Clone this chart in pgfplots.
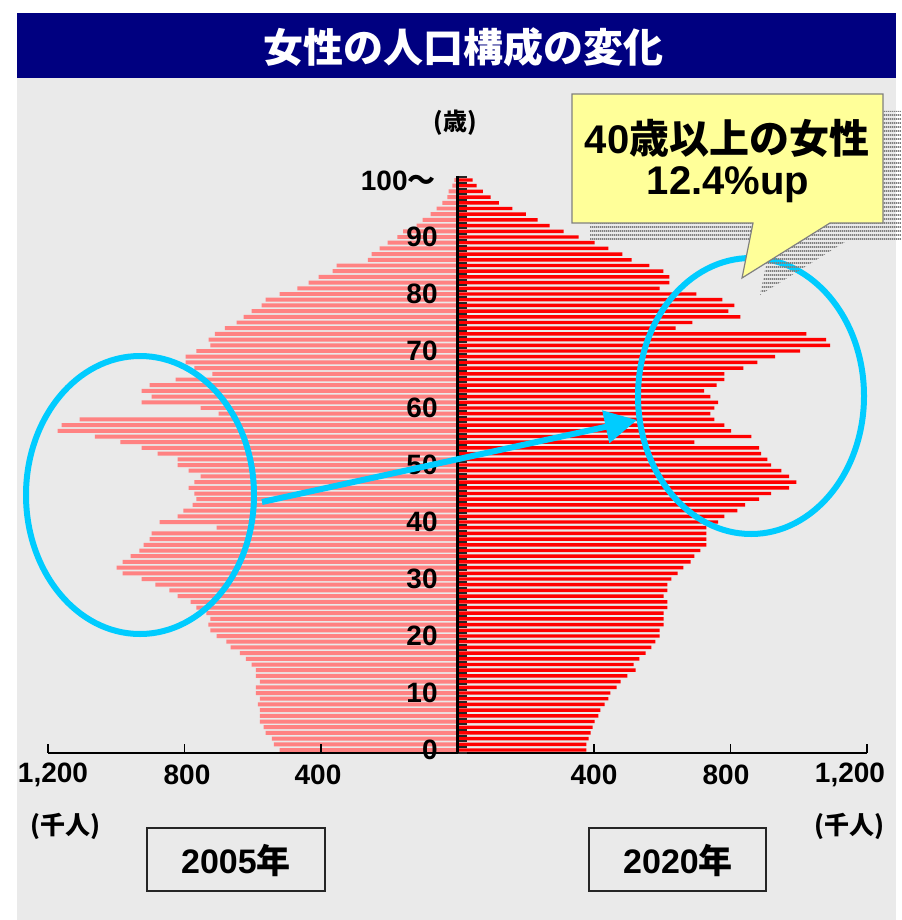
\documentclass[border=0pt]{standalone}
\usepackage{pgfplots}
\usepackage{pgfplotstable}
\pgfplotsset{compat=1.18}
\usepackage{fontspec}
\setmainfont{Liberation Sans}
\newfontfamily\cjk{Noto Sans CJK JP}
\usetikzlibrary{patterns.meta,arrows.meta}

\definecolor{bgc}{RGB}{234,234,234}
\definecolor{navy}{RGB}{0,0,128}
\definecolor{pinkbar}{RGB}{255,130,130}
\definecolor{redbar}{RGB}{255,0,0}
\definecolor{cyanline}{RGB}{0,204,255}
\definecolor{callyellow}{RGB}{255,255,153}

\tikzdeclarepattern{name=hstripes, type=uncolored,
  bounding box={(0,0) and (1pt,2pt)}, tile size={(1pt,2pt)},
  code={\fill (0,0) rectangle (1pt,1.1pt);}}

% 2005 (left, negative = drawn to the left), thousands
\pgfplotstableread{
age val
0 -521
1 -538
2 -544
3 -562
4 -568
5 -579
6 -579
7 -579
8 -585
9 -579
10 -591
11 -591
12 -579
13 -591
14 -591
15 -603
16 -620
17 -638
18 -665
19 -677
20 -706
21 -724
22 -730
23 -724
24 -736
25 -765
26 -782
27 -820
28 -844
29 -885
30 -926
31 -981
32 -999
33 -981
34 -958
35 -932
36 -920
37 -902
38 -896
39 -706
40 -873
41 -820
42 -803
43 -776
44 -765
45 -771
46 -788
47 -771
48 -753
49 -788
50 -820
51 -820
52 -879
53 -926
54 -988
55 -1063
56 -1172
57 -1160
58 -1107
59 -700
60 -753
61 -926
62 -896
63 -926
64 -902
65 -826
66 -718
67 -771
68 -797
69 -797
70 -765
71 -724
72 -729
73 -711
74 -682
75 -647
76 -627
77 -603
78 -574
79 -562
80 -521
81 -469
82 -436
83 -407
84 -366
85 -354
86 -263
87 -252
88 -228
89 -205
90 -176
91 -159
92 -120
93 -102
94 -79
95 -61
96 -44
97 -30
98 -26
99 -15
100 -9
}\dataA

% 2020 (right), thousands
\pgfplotstableread{
age val
0 378
1 378
2 384
3 390
4 396
5 402
6 413
7 419
8 431
9 442
10 448
11 466
12 478
13 498
14 522
15 516
16 533
17 551
18 568
19 580
20 592
21 592
22 604
23 604
24 604
25 615
26 615
27 604
28 615
29 615
30 627
31 645
32 662
33 683
34 694
35 712
36 729
37 729
38 729
39 729
40 764
41 782
42 820
43 843
44 884
45 919
46 972
47 993
48 972
49 949
50 919
51 908
52 890
53 884
54 694
55 861
56 802
57 782
58 753
59 741
60 753
61 764
62 741
63 723
64 759
65 782
66 782
67 838
68 879
69 931
70 1004
71 1092
72 1080
73 1022
74 639
75 688
76 829
77 794
78 811
79 776
80 700
81 592
82 621
83 621
84 603
85 562
86 510
87 483
88 442
89 402
90 355
91 311
92 270
93 235
94 200
95 161
96 121
97 97
98 74
99 56
100 44
}\dataB

\begin{document}
\begin{tikzpicture}
\begin{scope}[x=0.5pt,y=-0.5pt]
  \useasboundingbox (0,0) rectangle (896,920);
  \fill[white] (0,0) rectangle (896,920);
  \fill[bgc] (17,78) rectangle (896,920);
  \fill[navy] (17,13) rectangle (896,78);
  \node[text=white] at (463,47) {\cjk\bfseries\fontsize{20}{24}\selectfont 女性の人口構成の変化};
\end{scope}

\begin{axis}[at={(24pt,-376.425pt)}, anchor=south west, scale only axis,
  width=409.5pt, height=287.85pt,
  xmin=-1200, xmax=1200, ymin=-0.5, ymax=100.5,
  hide axis, clip=false]
  \addplot[xbar, bar shift=0pt, bar width=0.7, fill=pinkbar, draw=none]
    table[x=val, y=age] {\dataA};
  \addplot[xbar, bar shift=0pt, bar width=0.6, fill=redbar, draw=none]
    table[x=val, y=age] {\dataB};
\end{axis}

\begin{scope}[x=0.5pt,y=-0.5pt]
  % axes
  \draw[line width=1pt] (48,752.85) -- (867,752.85);
  \foreach \xx in {48,184.5,321,594,730.5,867}
    \draw[line width=0.8pt] (\xx,752.85) -- ++(0,-9);
  \foreach \i in {0,...,101}
    \draw[line width=1pt, black!85] (457.5,{752.85-5.7*\i}) -- ++(9,0);
  \draw[line width=1.5pt] (457.5,176) -- (457.5,753);
  % y labels
  \foreach \k in {0,1,...,9}
    \node[anchor=east, inner sep=0pt] at (438,{750-57*\k}) {\bfseries\fontsize{14}{14}\selectfont\pgfmathparse{int(10*\k)}\pgfmathresult};
  \node[anchor=east, inner sep=0pt] at (436,181) {\bfseries\fontsize{14}{14}\selectfont 100{\cjk ～}};
  \node at (455,123) {\cjk\bfseries\fontsize{12}{12}\selectfont (歳)};
  % x labels
  \node at (53,775) {\bfseries\fontsize{14}{14}\selectfont 1,200};
  \node at (187,775) {\bfseries\fontsize{14}{14}\selectfont 800};
  \node at (318,775) {\bfseries\fontsize{14}{14}\selectfont 400};
  \node at (594,775) {\bfseries\fontsize{14}{14}\selectfont 400};
  \node at (726,775) {\bfseries\fontsize{14}{14}\selectfont 800};
  \node at (850,775) {\bfseries\fontsize{14}{14}\selectfont 1,200};
  \node at (65,826) {\cjk\bfseries\fontsize{12.5}{13}\selectfont (千人)};
  \node at (849,826) {\cjk\bfseries\fontsize{12.5}{13}\selectfont (千人)};
  % year boxes
  \draw[line width=1pt, black!85] (147,828) rectangle (325,891);
  \draw[line width=1pt, black!85] (589,828) rectangle (766,891);
  \node at (236,860) {\bfseries\fontsize{17}{17}\selectfont 2005{\cjk 年}};
  \node at (678,860) {\bfseries\fontsize{17}{17}\selectfont 2020{\cjk 年}};
  % ellipses and arrow
  \draw[cyanline, line width=3pt] (140,495) ellipse [x radius=114, y radius=139];
  \draw[cyanline, line width=3pt] (751,396) ellipse [x radius=113, y radius=138];
  \draw[cyanline, line width=3pt, -{Triangle[length=16pt,width=16pt]}] (262,502) -- (637,420);
  % callout shadow
  \fill[pattern={hstripes}, pattern color=black!50] (590,111) -- (901,111) -- (901,240) -- (848,240) -- (760,295) -- (771,240) -- (590,240) -- cycle;
  % callout
  \draw[fill=callyellow, draw=gray, line width=0.6pt] (572,94) -- (883,94) -- (883,223) -- (830,223) -- (742,278) -- (753,223) -- (572,223) -- cycle;
  \node at (727,138) {\bfseries\fontsize{20}{20}\selectfont 40{\cjk 歳以上の女性}};
  \node at (728,185) {\bfseries\fontsize{20}{20}\selectfont 12.4\%up};
\end{scope}
\end{tikzpicture}
\end{document}
